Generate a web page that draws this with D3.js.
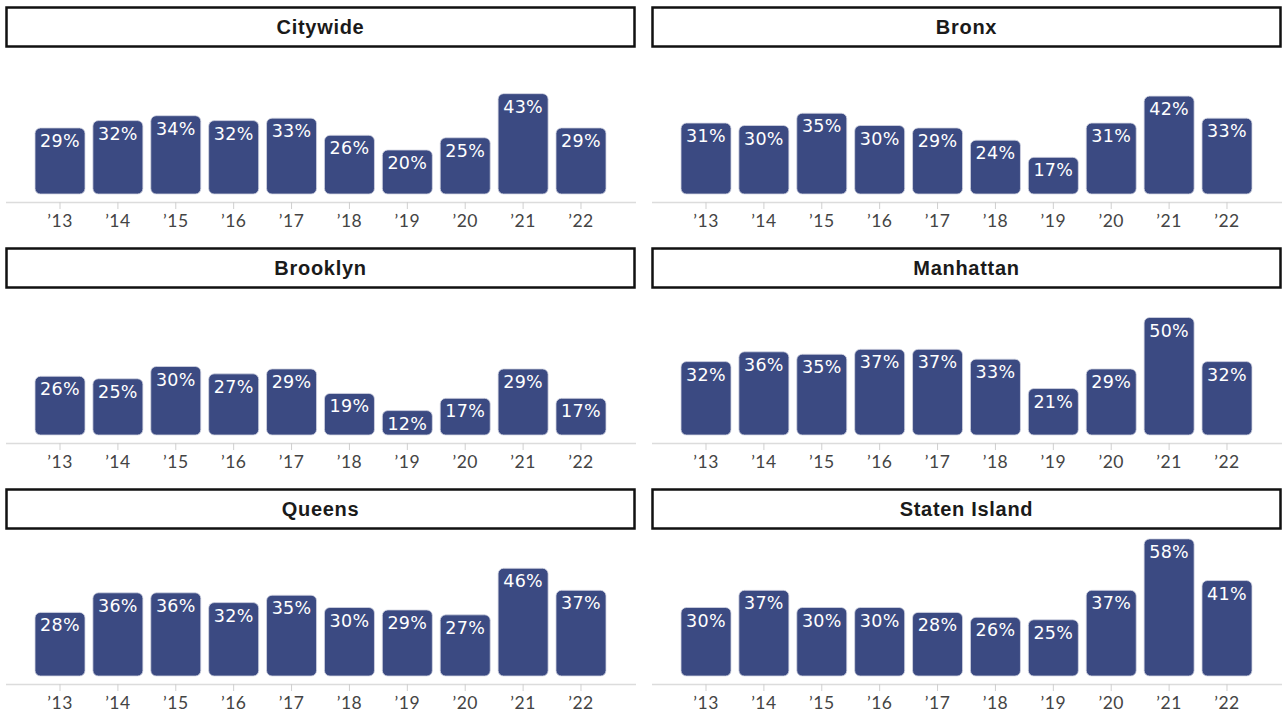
<!DOCTYPE html>
<html>
<head>
<meta charset="utf-8">
<script src="https://cdn.jsdelivr.net/npm/d3@7"></script>
<style>
  html, body { margin: 0; padding: 0; background: #fff; }
  svg { display: block; }
</style>
</head>
<body>
<svg id="chart" width="1283" height="713"></svg>
<script>
// Share of respondents by year, per borough
const years = ["’13", "’14", "’15", "’16", "’17", "’18", "’19", "’20", "’21", "’22"];
const regions = ["Citywide", "Bronx", "Brooklyn", "Manhattan", "Queens", "Staten Island"];
const citywide     = [29, 32, 34, 32, 33, 26, 20, 25, 43, 29];
const bronx        = [31, 30, 35, 30, 29, 24, 17, 31, 42, 33];
const brooklyn     = [26, 25, 30, 27, 29, 19, 12, 17, 29, 17];
const manhattan    = [32, 36, 35, 37, 37, 33, 21, 29, 50, 32];
const queens       = [28, 36, 36, 32, 35, 30, 29, 27, 46, 37];
const statenIsland = [30, 37, 30, 30, 28, 26, 25, 37, 58, 41];
const seriesValues = [citywide, bronx, brooklyn, manhattan, queens, statenIsland];

const svg = d3.select("#chart");
const panelW = 646, rowH = 241;
const barColor = "#3b4a82";

// shared scales (panel-local coordinates)
const x = d3.scaleBand().domain(years).range([35, 606]).paddingInner(0.136).paddingOuter(0);
const zeroY = 199;
const y = d3.scaleLinear().domain([0, 60]).range([zeroY, zeroY - 2.45 * 60]);
const gapAboveAxis = 5;

regions.forEach((name, i) => {
  const col = i % 2, row = Math.floor(i / 2);
  const g = svg.append("g").attr("transform", `translate(${col * panelW},${row * rowH})`);
  const vals = seriesValues[i];
  const data = years.map((yr, j) => ({ year: yr, value: vals[j] }));

  // title box
  g.append("rect")
    .attr("x", 6.5).attr("y", 7.5)
    .attr("width", 628).attr("height", 39)
    .attr("fill", "#fff").attr("stroke", "#111").attr("stroke-width", 2.5);
  g.append("text")
    .attr("x", 320.5).attr("y", 33.5)
    .attr("text-anchor", "middle")
    .attr("font-family", "Liberation Sans, Arial, sans-serif")
    .attr("font-weight", "bold")
    .attr("font-size", 20)
    .attr("letter-spacing", 0.7)
    .attr("fill", "#1a1a1a")
    .text(name);

  // x axis
  const axis = g.append("g").attr("transform", `translate(0,${zeroY + 3})`);
  axis.append("line")
    .attr("x1", 6).attr("x2", 636).attr("y1", 0.5).attr("y2", 0.5)
    .attr("stroke", "#dcdcdc").attr("stroke-width", 1.5);
  const ax = d3.axisBottom(x).tickSize(7).tickPadding(6);
  const axG = axis.append("g").call(ax);
  axG.select(".domain").remove();
  axG.selectAll(".tick line").attr("stroke", "#cfcfcf").attr("stroke-width", 1);
  axG.selectAll(".tick text")
    .attr("font-family", "Lato, 'Liberation Sans', sans-serif")
    .attr("font-size", 17.5)
    .attr("letter-spacing", 0.5)
    .attr("fill", "#444");

  // bars
  g.selectAll("rect.bar").data(data).join("rect")
    .attr("class", "bar")
    .attr("x", d => x(d.year))
    .attr("y", d => y(d.value))
    .attr("width", x.bandwidth())
    .attr("height", d => y(0) - y(d.value) - gapAboveAxis)
    .attr("rx", 5.5).attr("ry", 5.5)
    .attr("fill", barColor)
    .attr("stroke", "#d4d7e3").attr("stroke-width", 0.8);

  // value labels
  g.selectAll("text.val").data(data).join("text")
    .attr("class", "val")
    .attr("x", d => x(d.year) + x.bandwidth() / 2)
    .attr("y", d => y(d.value) + 19)
    .attr("text-anchor", "middle")
    .attr("font-family", "DejaVu Sans, sans-serif")
    .attr("font-size", 17.5)
    .attr("letter-spacing", 0.3)
    .attr("fill", "#fff")
    .text(d => d.value + "%");
});
</script>
</body>
</html>
